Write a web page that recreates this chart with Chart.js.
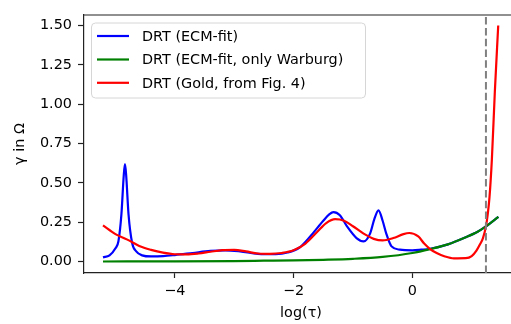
<!DOCTYPE html>
<html lang="en">
<head>
    <meta charset="UTF-8">
    <title>DRT comparison</title>
    <script src="https://cdn.jsdelivr.net/npm/chart.js"></script>
    <style>
        html, body {
            margin: 0;
            padding: 0;
            background: #ffffff;
            overflow: hidden;
            width: 511px;
            height: 324px;
        }
        #drtChart {
            position: absolute;
            left: 0;
            top: 0;
        }
    </style>
</head>
<body>
<canvas id="drtChart" width="530" height="324"></canvas>

<script>
    // tick labels
    const xTicks = [-4, -2, 0];
    const yTicks = [0, 0.25, 0.5, 0.75, 1.0, 1.25, 1.5];

    // series names
    const seriesLabels = ["DRT (ECM-fit)", "DRT (ECM-fit, only Warburg)", "DRT (Gold, from Fig. 4)"];

    // DRT (ECM-fit)
    const ecmTau = [-5.21, -5.1, -5.0, -4.95, -4.9, -4.86, -4.84, -4.82, -4.78, -4.72, -4.65, -4.55, -4.4, -4.2, -4.0, -3.7, -3.4, -3.15, -2.9, -2.6, -2.3, -2.1, -1.9, -1.72, -1.5, -1.4, -1.33, -1.22, -1.1, -0.94, -0.82, -0.71, -0.64, -0.57, -0.5, -0.44, -0.35, -0.21, 0.0, 0.15, 0.3, 0.6, 0.9, 1.1, 1.24, 1.45];
    const ecmGamma = [0.027, 0.04, 0.085, 0.13, 0.3, 0.55, 0.62, 0.55, 0.3, 0.12, 0.065, 0.04, 0.033, 0.035, 0.042, 0.055, 0.068, 0.072, 0.065, 0.05, 0.048, 0.058, 0.09, 0.16, 0.26, 0.3, 0.315, 0.295, 0.224, 0.15, 0.129, 0.18, 0.27, 0.326, 0.26, 0.18, 0.097, 0.076, 0.072, 0.076, 0.082, 0.11, 0.155, 0.19, 0.224, 0.284];

    // DRT (ECM-fit, only Warburg)
    const warburgTau = [-5.21, -4.0, -3.0, -2.5, -2.0, -1.5, -1.0, -0.5, 0.0, 0.3, 0.6, 0.9, 1.1, 1.24, 1.45];
    const warburgGamma = [0.001, 0.002, 0.004, 0.006, 0.008, 0.012, 0.018, 0.03, 0.055, 0.08, 0.11, 0.155, 0.19, 0.224, 0.284];

    // DRT (Gold, from Fig. 4)
    const goldTau = [-5.21, -5.0, -4.8, -4.6, -4.4, -4.2, -4.0, -3.8, -3.6, -3.4, -3.2, -3.0, -2.8, -2.6, -2.4, -2.2, -2.0, -1.8, -1.6, -1.45, -1.3, -1.15, -1.0, -0.82, -0.65, -0.5, -0.32, -0.15, -0.05, 0.1, 0.2, 0.3, 0.41, 0.55, 0.7, 0.9, 1.0, 1.08, 1.14, 1.19, 1.24, 1.27, 1.3, 1.34, 1.39, 1.447];
    const goldGamma = [0.23, 0.175, 0.14, 0.1, 0.075, 0.057, 0.047, 0.046, 0.052, 0.063, 0.073, 0.075, 0.065, 0.052, 0.05, 0.055, 0.072, 0.115, 0.19, 0.245, 0.27, 0.26, 0.225, 0.178, 0.145, 0.135, 0.15, 0.175, 0.182, 0.16, 0.115, 0.08, 0.055, 0.033, 0.021, 0.022, 0.035, 0.07, 0.11, 0.15, 0.224, 0.3, 0.41, 0.65, 1.08, 1.5];

    // vertical marker
    const markerTau = 1.24;

    const xMin = -5.53, xMax = 1.78;
    const yMin = -0.072, yMax = 1.567;

    const FONT = "'DejaVu Sans', sans-serif";
    const lineColors = ["#0000ff", "#008000", "#ff0000"];

    function toPoints(xs, ys) {
        return xs.map((x, i) => ({ x: x, y: ys[i] }));
    }

    // top/right spines
    const framePlugin = {
        id: "frame",
        afterDraw(chart) {
            const a = chart.chartArea;
            const ctx = chart.ctx;
            ctx.save();
            ctx.strokeStyle = "#222";
            ctx.lineWidth = 1.2;
            ctx.beginPath();
            ctx.moveTo(a.left, a.top);
            ctx.lineTo(a.right, a.top);
            ctx.lineTo(a.right, a.bottom);
            ctx.stroke();
            ctx.restore();
        }
    };

    // matplotlib style legend in the upper left
    const legendPlugin = {
        id: "mplLegend",
        afterDraw(chart) {
            const ctx = chart.ctx;
            const x0 = 91, y0 = 22.5, w = 274, h = 75, r = 4;
            ctx.save();
            ctx.fillStyle = "rgba(255,255,255,0.8)";
            ctx.strokeStyle = "#d6d6d6";
            ctx.lineWidth = 1;
            ctx.beginPath();
            ctx.roundRect(x0 + 0.5, y0 + 0.5, w, h, r);
            ctx.fill();
            ctx.stroke();
            ctx.font = "14.4px " + FONT;
            ctx.textBaseline = "middle";
            ctx.fillStyle = "#000";
            const rows = [36, 59.5, 82.8];
            chart.data.datasets.slice(0, 3).forEach((ds, i) => {
                ctx.strokeStyle = ds.borderColor;
                ctx.lineWidth = 2.2;
                ctx.beginPath();
                ctx.moveTo(97, rows[i]);
                ctx.lineTo(129, rows[i]);
                ctx.stroke();
                ctx.fillText(ds.label, 142, rows[i] + 1);
            });
            ctx.restore();
        }
    };

    const ctx = document.getElementById("drtChart").getContext("2d");
    new Chart(ctx, {
        type: "line",
        data: {
            datasets: [
                {
                    label: seriesLabels[0],
                    data: toPoints(ecmTau, ecmGamma),
                    borderColor: lineColors[0],
                    borderWidth: 2.2,
                    order: 4
                },
                {
                    label: seriesLabels[1],
                    data: toPoints(warburgTau, warburgGamma),
                    borderColor: lineColors[1],
                    borderWidth: 2.2,
                    order: 3
                },
                {
                    label: seriesLabels[2],
                    data: toPoints(goldTau, goldGamma),
                    borderColor: lineColors[2],
                    borderWidth: 2.2,
                    order: 2
                },
                {
                    label: "marker",
                    data: [{ x: markerTau, y: yMin }, { x: markerTau, y: yMax }],
                    borderColor: "#808080",
                    borderWidth: 2,
                    borderDash: [7.5, 3.3],
                    cubicInterpolationMode: "default",
                    tension: 0,
                    order: 1
                }
            ]
        },
        options: {
            responsive: false,
            animation: false,
            events: [],
            layout: { padding: { top: 15, right: 12, bottom: 0, left: 0 } },
            elements: {
                point: { radius: 0 },
                line: { cubicInterpolationMode: "monotone", fill: false }
            },
            plugins: {
                legend: { display: false },
                tooltip: { enabled: false }
            },
            scales: {
                x: {
                    type: "linear",
                    min: xMin,
                    max: xMax,
                    afterFit(scale) { scale.height = 51; },
                    afterBuildTicks(scale) { scale.ticks = xTicks.map(v => ({ value: v })); },
                    grid: { drawOnChartArea: false, drawTicks: true, tickLength: 5, tickWidth: 1.2, tickColor: "#222" },
                    border: { display: true, color: "#222", width: 1.2 },
                    ticks: {
                        color: "#000",
                        padding: 5,
                        maxRotation: 0,
                        font: { family: FONT, size: 14.4 },
                        callback: v => v < 0 ? "\u2212" + Math.abs(v) : String(v)
                    },
                    title: {
                        display: true,
                        text: "log(\u03c4)",
                        color: "#000",
                        font: { family: FONT, size: 14.4 },
                        padding: { top: 0, bottom: 2 }
                    }
                },
                y: {
                    type: "linear",
                    min: yMin,
                    max: yMax,
                    afterFit(scale) { scale.width = 84; },
                    afterBuildTicks(scale) { scale.ticks = yTicks.map(v => ({ value: v })); },
                    grid: { drawOnChartArea: false, drawTicks: true, tickLength: 6, tickWidth: 1.2, tickColor: "#222" },
                    border: { display: true, color: "#222", width: 1.2 },
                    ticks: {
                        color: "#000",
                        padding: 6,
                        font: { family: FONT, size: 14.4 },
                        callback: v => v.toFixed(2)
                    },
                    title: {
                        display: true,
                        text: "\u03b3 in \u03a9",
                        color: "#000",
                        font: { family: FONT, size: 14.4 },
                        padding: { top: 12, bottom: 0 }
                    }
                }
            }
        },
        plugins: [framePlugin, legendPlugin]
    });
</script>
</body>
</html>
